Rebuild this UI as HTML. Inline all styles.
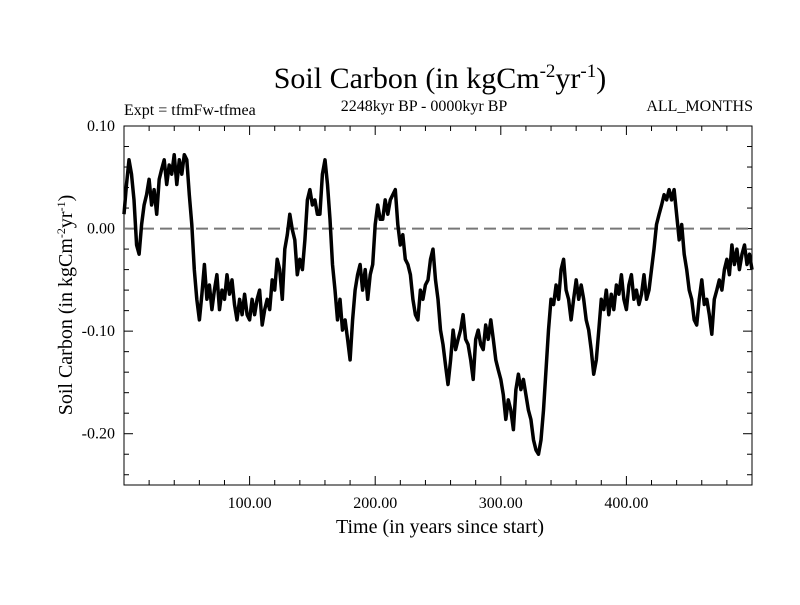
<!DOCTYPE html>
<html><head><meta charset="utf-8"><style>
body{margin:0;background:#fff;width:800px;height:600px;overflow:hidden}
svg{font-family:"Liberation Serif",serif}
</style></head><body>
<svg id="c" width="800" height="600">
<text x="440" y="88" font-size="30" text-anchor="middle">Soil Carbon (in kgCm<tspan dy="-11" font-size="19">-2</tspan><tspan dy="11">yr</tspan><tspan dy="-11" font-size="19">-1</tspan><tspan dy="11">)</tspan></text>
<text x="124" y="115" font-size="16">Expt = tfmFw-tfmea</text>
<text x="424" y="111" font-size="16" text-anchor="middle">2248kyr BP - 0000kyr BP</text>
<text x="753" y="111" font-size="16" text-anchor="end">ALL_MONTHS</text>
<text x="440" y="533" font-size="20" text-anchor="middle">Time (in years since start)</text>
<text transform="translate(72,305) rotate(-90)" font-size="20" text-anchor="middle">Soil Carbon (in kgCm<tspan dy="-7" font-size="12">-2</tspan><tspan dy="7">yr</tspan><tspan dy="-7" font-size="12">-1</tspan><tspan dy="7">)</tspan></text>
<g id="axes"></g>
<g id="plot"></g>
</svg>
<script>
const yTickVals=[0.10,0.00,-0.10,-0.20];
const yTickLabels=["0.10","0.00","-0.10","-0.20"];
const xTickVals=[100,200,300,400];
const xTickLabels=["100.00","200.00","300.00","400.00"];
const tStart=0,tEnd=500;
const soilCarbon=[0.014,0.043,0.067,0.053,0.028,-0.016,-0.025,0.004,0.023,0.033,0.048,0.023,0.038,0.014,0.048,0.058,0.067,0.043,0.062,0.053,0.072,0.043,0.067,0.053,0.072,0.067,0.033,0.004,-0.040,-0.069,-0.089,-0.064,-0.035,-0.069,-0.055,-0.079,-0.060,-0.045,-0.079,-0.060,-0.069,-0.045,-0.064,-0.050,-0.074,-0.089,-0.069,-0.084,-0.064,-0.084,-0.089,-0.069,-0.084,-0.069,-0.060,-0.094,-0.079,-0.069,-0.079,-0.050,-0.060,-0.030,-0.040,-0.069,-0.020,-0.006,0.014,-0.001,-0.011,-0.045,-0.030,-0.040,-0.011,0.028,0.038,0.023,0.028,0.014,0.014,0.053,0.067,0.043,0.009,-0.035,-0.060,-0.089,-0.069,-0.099,-0.089,-0.108,-0.128,-0.089,-0.060,-0.045,-0.035,-0.060,-0.040,-0.069,-0.045,-0.035,0.004,0.023,0.009,0.009,0.028,0.014,0.028,0.033,0.038,0.004,-0.016,-0.006,-0.030,-0.035,-0.045,-0.069,-0.084,-0.089,-0.060,-0.069,-0.055,-0.050,-0.030,-0.020,-0.050,-0.069,-0.099,-0.113,-0.133,-0.152,-0.128,-0.099,-0.118,-0.108,-0.099,-0.084,-0.108,-0.113,-0.128,-0.147,-0.108,-0.099,-0.113,-0.118,-0.094,-0.108,-0.089,-0.108,-0.128,-0.138,-0.147,-0.162,-0.186,-0.167,-0.177,-0.196,-0.157,-0.142,-0.157,-0.147,-0.162,-0.177,-0.186,-0.206,-0.216,-0.220,-0.206,-0.177,-0.138,-0.099,-0.069,-0.074,-0.055,-0.069,-0.040,-0.030,-0.060,-0.069,-0.089,-0.069,-0.050,-0.069,-0.055,-0.069,-0.089,-0.099,-0.118,-0.142,-0.128,-0.099,-0.069,-0.079,-0.060,-0.084,-0.064,-0.079,-0.055,-0.064,-0.045,-0.069,-0.079,-0.055,-0.045,-0.069,-0.060,-0.074,-0.064,-0.045,-0.069,-0.060,-0.040,-0.020,0.004,0.014,0.023,0.033,0.028,0.038,0.028,0.038,0.014,-0.011,0.004,-0.025,-0.040,-0.060,-0.069,-0.089,-0.094,-0.069,-0.050,-0.074,-0.069,-0.084,-0.103,-0.069,-0.060,-0.050,-0.060,-0.040,-0.030,-0.045,-0.016,-0.035,-0.020,-0.040,-0.025,-0.016,-0.035,-0.025,-0.040];

const L=124,R=752,T=126,B=485,yMax=0.10,yMin=-0.25;
const X=t=>L+(t-tStart)/(tEnd-tStart)*(R-L);
const Y=v=>T+(yMax-v)/(yMax-yMin)*(B-T);
const NS="http://www.w3.org/2000/svg";
function mk(tag,attrs,parent){const e=document.createElementNS(NS,tag);for(const k in attrs)e.setAttribute(k,attrs[k]);parent.appendChild(e);return e;}
const axes=document.getElementById('axes'),plot=document.getElementById('plot');
const frame=mk('rect',{x:L,y:T,width:R-L,height:B-T,fill:'none',stroke:'#000','stroke-width':1},axes);


for(let v=-0.24;v<=0.1001;v+=0.02){const y=Y(v);const maj=Math.abs(Math.round(v*100)%10)<0.5;const len=maj?9:5;
 mk('line',{x1:L,x2:L+len,y1:y,y2:y,stroke:'#000'},axes);mk('line',{x1:R,x2:R-len,y1:y,y2:y,stroke:'#000'},axes);}
for(let t=20;t<500;t+=20){const x=X(t);const maj=t%100===0;const len=maj?9:5;
 mk('line',{x1:x,x2:x,y1:B,y2:B-len,stroke:'#000'},axes);mk('line',{x1:x,x2:x,y1:T,y2:T+len,stroke:'#000'},axes);}
yTickVals.forEach((v,i)=>{const t=mk('text',{x:L-9,y:Y(v)+5,'font-size':16,'text-anchor':'end'},axes);t.textContent=yTickLabels[i];
 
 });
xTickVals.forEach((v,i)=>{const t=mk('text',{x:X(v),y:B+23,'font-size':16,'text-anchor':'middle'},axes);t.textContent=xTickLabels[i];
 
 });
const zl=mk('line',{x1:L,x2:R,y1:Y(0),y2:Y(0),stroke:'#777','stroke-width':2,'stroke-dasharray':'12,6'},plot);


const n=soilCarbon.length;
const pts=soilCarbon.map((v,i)=>X(tStart+i*(tEnd-tStart)/(n-1)).toFixed(1)+','+Y(v).toFixed(1)).join(' ');
const line=mk('polyline',{points:pts,fill:'none',stroke:'#000','stroke-width':3.5,'stroke-linejoin':'round'},plot);


</script>
</body></html>
